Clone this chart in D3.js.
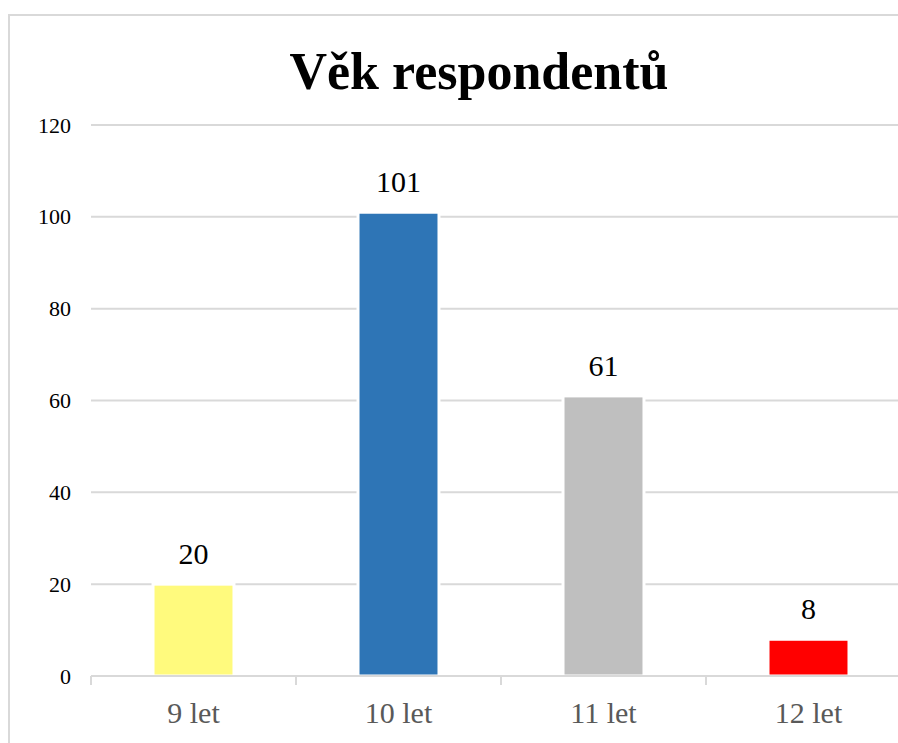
<!DOCTYPE html>
<html>
<head>
<meta charset="utf-8">
<script src="https://cdn.jsdelivr.net/npm/d3@7"></script>
<style>
  html, body { margin: 0; padding: 0; background: #fff; }
  svg { display: block; }
  svg text { font-family: "Liberation Serif", Tinos, "Times New Roman", Times, "Noto Serif", "DejaVu Serif", serif !important; }
</style>
</head>
<body>
<svg id="chart" width="898" height="743"></svg>
<script>
const title = "Věk respondentů";
const categories = ["9 let", "10 let", "11 let", "12 let"];
const values = [20, 101, 61, 8];
const colors = ["#FFFA7D", "#2E75B6", "#BFBFBF", "#FF0000"];
const yTicks = [0, 20, 40, 60, 80, 100, 120];

const FONT = '"Liberation Serif", Tinos, "Times New Roman", Times, "Noto Serif", "DejaVu Serif", serif';
const svg = d3.select("#chart");
const W = 898, H = 743;
svg.append("rect").attr("width", W).attr("height", H).attr("fill", "#fff");

// outer chart border (extends past right/bottom edge)
svg.append("rect")
  .attr("x", 9).attr("y", 15).attr("width", 1000).attr("height", 1000)
  .attr("fill", "none").attr("stroke", "#D9D9D9").attr("stroke-width", 2);

const x = d3.scaleBand().domain(categories).range([91, 911]).paddingInner(0.605).paddingOuter(0.3025);
const y = d3.scaleLinear().domain([0, 120]).range([676, 125]);

// title
svg.append("text")
  .attr("x", 479).attr("y", 89)
  .attr("text-anchor", "middle")
  .style("font-family", FONT)
  .attr("font-size", 52).attr("font-weight", "bold").attr("fill", "#000")
  .text(title);

// gridlines
svg.append("g").selectAll("line").data(yTicks.filter(d => d > 0)).join("line")
  .attr("x1", 91).attr("x2", 911)
  .attr("y1", d => y(d)).attr("y2", d => y(d))
  .attr("stroke", "#D9D9D9").attr("stroke-width", 2);

// y axis labels
const yAxis = d3.axisLeft(y).tickValues(yTicks).tickSize(0).tickPadding(20);
const yg = svg.append("g").attr("transform", "translate(91,0)").call(yAxis);
yg.attr("font-family", null).style("font-family", FONT);
yg.select(".domain").remove();
yg.selectAll("text").attr("font-size", 22).attr("fill", "#000")
  .style("font-family", FONT);

// bars
svg.append("g").selectAll("rect").data(values).join("rect")
  .attr("x", (d, i) => x(categories[i]))
  .attr("width", x.bandwidth())
  .attr("y", d => y(d))
  .attr("height", d => y(0) - y(d))
  .attr("fill", (d, i) => colors[i])
  .attr("stroke", "#fff").attr("stroke-width", 3);

// x axis
const xAxisLine = svg.append("g");
xAxisLine.append("line")
  .attr("x1", 91).attr("x2", 911).attr("y1", y(0)).attr("y2", y(0))
  .attr("stroke", "#D9D9D9").attr("stroke-width", 2);
const step = x.step();
const boundaries = categories.map(c => x(c) - x.paddingOuter() * step).concat([911]);
xAxisLine.selectAll("line.tick").data(boundaries).join("line")
  .attr("class", "tick")
  .attr("x1", d => d).attr("x2", d => d)
  .attr("y1", y(0)).attr("y2", y(0) + 9)
  .attr("stroke", "#D9D9D9").attr("stroke-width", 2);

svg.append("g").selectAll("text").data(categories).join("text")
  .attr("x", d => x(d) + x.bandwidth() / 2)
  .attr("y", 723)
  .attr("text-anchor", "middle")
  .style("font-family", FONT)
  .attr("font-size", 30).attr("fill", "#595959")
  .text(d => d);

// value labels
svg.append("g").selectAll("text").data(values).join("text")
  .attr("x", (d, i) => x(categories[i]) + x.bandwidth() / 2)
  .attr("y", d => y(d) - 20)
  .attr("text-anchor", "middle")
  .style("font-family", FONT)
  .attr("font-size", 30).attr("fill", "#000")
  .text(d => d);
</script>
</body>
</html>
